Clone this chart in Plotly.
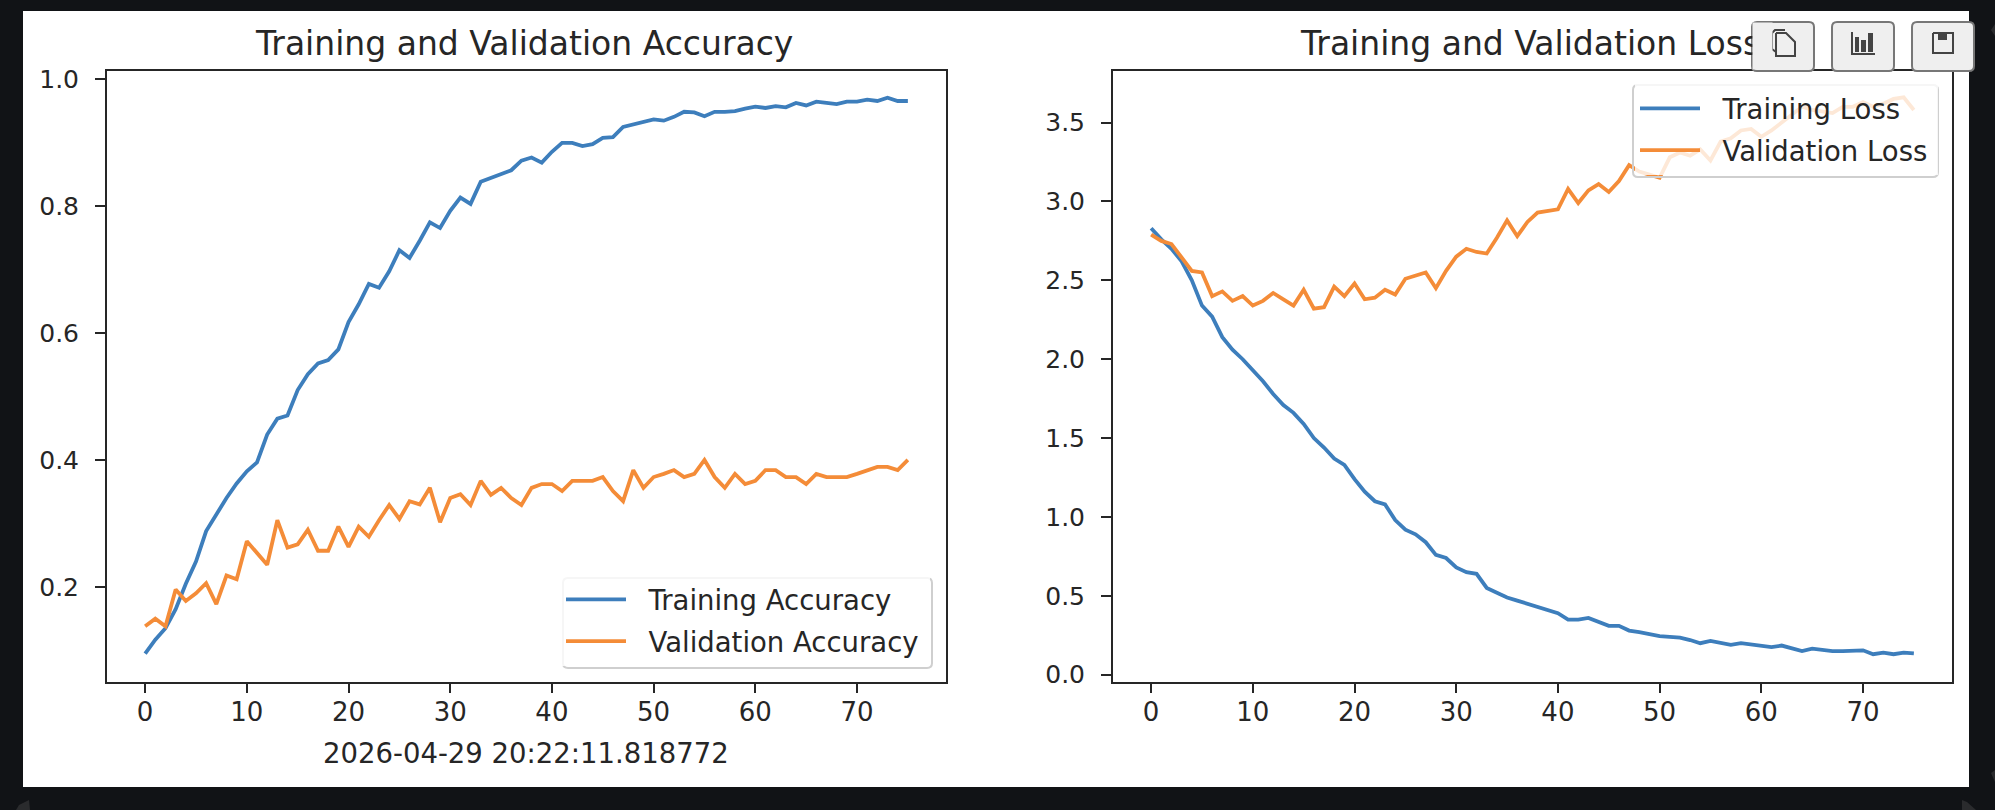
import plotly.graph_objects as go

# --- data ---
epochs = list(range(76))

train_acc = [0.095, 0.117, 0.135, 0.165, 0.205, 0.24, 0.288, 0.315, 0.34, 0.363,
             0.382, 0.396, 0.44, 0.465, 0.47, 0.51, 0.535, 0.552, 0.557, 0.574,
             0.617, 0.645, 0.677, 0.671, 0.697, 0.73, 0.718, 0.745, 0.774, 0.765,
             0.792, 0.813, 0.803, 0.838, 0.844, 0.85, 0.856, 0.871, 0.876, 0.868,
             0.885, 0.899, 0.899, 0.894, 0.897, 0.907, 0.908, 0.924, 0.928, 0.931,
             0.936, 0.934, 0.94, 0.948, 0.947, 0.941, 0.948, 0.948, 0.949, 0.953,
             0.956, 0.954, 0.957, 0.955, 0.962, 0.958, 0.964, 0.962, 0.96, 0.964,
             0.964, 0.967, 0.965, 0.97, 0.965, 0.965]

val_acc = [0.138, 0.15, 0.138, 0.196, 0.178, 0.19, 0.206, 0.173, 0.218, 0.212,
           0.272, 0.253, 0.235, 0.305, 0.262, 0.267, 0.29, 0.257, 0.257, 0.295,
           0.263, 0.295, 0.279, 0.305, 0.329, 0.307, 0.335, 0.33, 0.356, 0.302,
           0.34, 0.346, 0.329, 0.367, 0.345, 0.356, 0.34, 0.329, 0.356, 0.362,
           0.362, 0.351, 0.367, 0.367, 0.367, 0.373, 0.351, 0.335, 0.384, 0.356,
           0.373, 0.378, 0.384, 0.373, 0.378, 0.4, 0.373, 0.356, 0.378, 0.362,
           0.367, 0.384, 0.384, 0.373, 0.373, 0.362, 0.378, 0.373, 0.373, 0.373,
           0.378, 0.384, 0.389, 0.389, 0.384, 0.4]

train_loss = [2.83, 2.76, 2.7, 2.62, 2.5, 2.34, 2.27, 2.14, 2.06, 2.0,
              1.93, 1.86, 1.78, 1.71, 1.66, 1.59, 1.5, 1.44, 1.37, 1.33,
              1.24, 1.16, 1.1, 1.08, 0.98, 0.92, 0.89, 0.84, 0.76, 0.74,
              0.68, 0.65, 0.64, 0.55, 0.52, 0.49, 0.47, 0.45, 0.43, 0.41,
              0.39, 0.35, 0.35, 0.36, 0.335, 0.31, 0.31, 0.28, 0.27, 0.255,
              0.245, 0.24, 0.235, 0.22, 0.2, 0.215, 0.205, 0.19, 0.2, 0.19,
              0.18, 0.175, 0.185, 0.17, 0.15, 0.165, 0.155, 0.15, 0.15, 0.15,
              0.155, 0.13, 0.14, 0.13, 0.14, 0.135]

val_loss = [2.79, 2.75, 2.73, 2.64, 2.56, 2.55, 2.4, 2.43, 2.37, 2.4,
            2.34, 2.37, 2.42, 2.38, 2.34, 2.44, 2.32, 2.33, 2.46, 2.4,
            2.48, 2.38, 2.39, 2.44, 2.41, 2.51, 2.53, 2.55, 2.45, 2.56,
            2.65, 2.7, 2.68, 2.67, 2.77, 2.88, 2.78, 2.87, 2.93, 2.94,
            2.95, 3.08, 2.99, 3.07, 3.11, 3.06, 3.13, 3.23, 3.19, 3.17,
            3.15, 3.28, 3.31, 3.29, 3.33, 3.26, 3.38, 3.4, 3.45, 3.46,
            3.41, 3.45, 3.5, 3.55, 3.6, 3.58, 3.57, 3.56, 3.6, 3.6,
            3.63, 3.6, 3.62, 3.65, 3.66, 3.58]

x_ticks = [0, 10, 20, 30, 40, 50, 60, 70]
acc_ticks = [0.2, 0.4, 0.6, 0.8, 1.0]
loss_ticks = [0.0, 0.5, 1.0, 1.5, 2.0, 2.5, 3.0, 3.5]

timestamp = "2026-04-29 20:22:11.818772"

# --- page geometry, in pixels of the 1995x810 shot ---
W, H = 1995, 810
BLUE = "#3d7ebc"
ORANGE = "#f48c38"
DARK = "#111316"
INK = "#262626"
FONT = "DejaVu Sans"
LW = 3.8
SMALL = 27.5
BIG = 33


def px(x):
    return x / W


def py(y):
    return 1 - y / H


def path(points, close=False):
    """pixel polyline -> svg path in paper coordinates"""
    parts = []
    for i, (x, y) in enumerate(points):
        parts.append(f"{'M' if i == 0 else 'L'}{px(x):.5f},{py(y):.5f}")
    return " ".join(parts) + (" Z" if close else "")


def round_rect(x0, y0, x1, y1, r):
    return (f"M{px(x0 + r):.5f},{py(y0):.5f} L{px(x1 - r):.5f},{py(y0):.5f} "
            f"Q{px(x1):.5f},{py(y0):.5f} {px(x1):.5f},{py(y0 + r):.5f} "
            f"L{px(x1):.5f},{py(y1 - r):.5f} Q{px(x1):.5f},{py(y1):.5f} {px(x1 - r):.5f},{py(y1):.5f} "
            f"L{px(x0 + r):.5f},{py(y1):.5f} Q{px(x0):.5f},{py(y1):.5f} {px(x0):.5f},{py(y1 - r):.5f} "
            f"L{px(x0):.5f},{py(y0 + r):.5f} Q{px(x0):.5f},{py(y0):.5f} {px(x0 + r):.5f},{py(y0):.5f} Z")


fig = go.Figure()

fig.add_trace(go.Scatter(x=epochs, y=train_acc, mode="lines", name="\u00a0\u00a0Training Accuracy\u2009",
                         line=dict(color=BLUE, width=LW), xaxis="x", yaxis="y",
                         legend="legend", legendgroup="a"))
fig.add_trace(go.Scatter(x=epochs, y=val_acc, mode="lines", name="\u00a0\u00a0Validation Accuracy\u2009",
                         line=dict(color=ORANGE, width=LW), xaxis="x", yaxis="y",
                         legend="legend", legendgroup="b"))
fig.add_trace(go.Scatter(x=epochs, y=train_loss, mode="lines", name="\u00a0\u00a0Training Loss\u2009",
                         line=dict(color=BLUE, width=LW), xaxis="x2", yaxis="y2",
                         legend="legend2", legendgroup="c"))
fig.add_trace(go.Scatter(x=epochs, y=val_loss, mode="lines", name="\u00a0\u00a0Validation Loss\u2009",
                         line=dict(color=ORANGE, width=LW), xaxis="x2", yaxis="y2",
                         legend="legend2", legendgroup="d"))

axis_style = dict(showgrid=False, zeroline=False, showline=True, mirror=True, automargin=False,
                  linecolor=INK, linewidth=2, ticks="outside", tickwidth=2, tickcolor=INK)
x_style = dict(ticklen=9, ticklabelstandoff=-3, tickfont=dict(family=FONT, size=26, color=INK), **axis_style)
y_style = dict(ticklen=10, ticklabelstandoff=11, tickfont=dict(family=FONT, size=25, color=INK), **axis_style)

shapes = []
# white panel behind the two charts
shapes.append(dict(type="rect", xref="paper", yref="paper", layer="below",
                   x0=px(23), x1=px(1969), y0=py(787), y1=py(11),
                   fillcolor="white", line_width=0))

# faint corners of the notebook page around the panel
for pts in [[(16, 810), (19, 805), (29, 800), (30, 810)],
            [(1962, 800), (1967, 802), (1976, 810), (1962, 810)],
            [(1991, 773), (1995, 770), (1995, 782)],
            [(1991, 30), (1995, 24), (1995, 36)]]:
    shapes.append(dict(type="path", xref="paper", yref="paper", layer="below",
                       path=path(pts, close=True), fillcolor="#2a2b2d", line_width=0))

# rounded legend frames, the legends themselves only add the see-through white
for box in [(563, 578, 932, 668), (1633, 85, 1938, 177)]:
    shapes.append(dict(type="path", xref="paper", yref="paper",
                       path=round_rect(*box, 5), line=dict(color="#cfcfcf", width=2)))

# notebook toolbar buttons over the top right corner
for x0 in [1752, 1832, 1912]:
    shapes.append(dict(type="path", xref="paper", yref="paper",
                       path=round_rect(x0, 22, x0 + 62, 71, 5),
                       fillcolor="#efefef", line=dict(color="#777777", width=2)))
icon = dict(color="#444444", width=2)
shapes.append(dict(type="path", xref="paper", yref="paper", line=icon,
                   path=path([(1776, 52), (1772, 49), (1772, 33), (1775, 30), (1785, 30)])))
shapes.append(dict(type="path", xref="paper", yref="paper", line=icon,
                   path=path([(1776, 33), (1786, 33), (1795, 42), (1795, 56), (1776, 56), (1776, 33)])))
shapes.append(dict(type="path", xref="paper", yref="paper", line=icon,
                   path=path([(1852, 32), (1852, 54), (1875, 54)])))
for bx0, bx1, by0 in [(1855, 1859, 37), (1861, 1866, 40), (1868, 1873, 33)]:
    shapes.append(dict(type="rect", xref="paper", yref="paper", line_width=0,
                       x0=px(bx0), x1=px(bx1), y0=py(52), y1=py(by0), fillcolor="#444444"))
shapes.append(dict(type="path", xref="paper", yref="paper", line=icon,
                   path=path([(1933, 33), (1953, 33), (1953, 53), (1933, 53), (1933, 33)])))
shapes.append(dict(type="rect", xref="paper", yref="paper", line_width=0,
                   x0=px(1938), x1=px(1947), y0=py(40), y1=py(33), fillcolor="#444444"))

annotations = [
    dict(text="Training and Validation Accuracy", xref="paper", yref="paper",
         x=px(524), y=py(43), xanchor="center", yanchor="middle", showarrow=False,
         font=dict(family=FONT, size=BIG, color=INK)),
    dict(text="Training and Validation Loss", xref="paper", yref="paper",
         x=px(1530), y=py(43), xanchor="center", yanchor="middle", showarrow=False,
         font=dict(family=FONT, size=BIG, color=INK)),
    dict(text=timestamp, xref="paper", yref="paper",
         x=px(526), y=py(753), xanchor="center", yanchor="middle", showarrow=False,
         font=dict(family=FONT, size=SMALL, color=INK)),
    # the first toolbar button sits on top of the end of the loss title
    dict(text=" ", xref="paper", yref="paper", x=px(1762), y=py(46), xanchor="center", yanchor="middle",
         width=17, height=44, bgcolor="#efefef", showarrow=False, font=dict(size=10)),
]

legend_style = dict(bgcolor="rgba(255,255,255,0.8)", borderwidth=0,
                    font=dict(family=FONT, size=SMALL, color=INK), itemwidth=60,
                    tracegroupgap=3, itemclick=False, itemdoubleclick=False)

fig.update_layout(
    width=W, height=H, margin=dict(l=0, r=0, t=0, b=0), autosize=False,
    paper_bgcolor=DARK, plot_bgcolor="rgba(0,0,0,0)", showlegend=True,
    xaxis=dict(domain=[px(107), px(946)], range=[-3.75, 78.75], tickvals=x_ticks, anchor="y", **x_style),
    yaxis=dict(domain=[py(682), py(71)], range=[0.0504, 1.0122], tickvals=acc_ticks, tickformat=".1f",
               anchor="x", **y_style),
    xaxis2=dict(domain=[px(1113), px(1952)], range=[-3.75, 78.75], tickvals=x_ticks, anchor="y2", **x_style),
    yaxis2=dict(domain=[py(682), py(71)], range=[-0.046, 3.827], tickvals=loss_ticks, tickformat=".1f",
                anchor="x2", **y_style),
    legend=dict(x=px(930), y=py(666), xanchor="right", yanchor="bottom", **legend_style),
    legend2=dict(x=px(1938), y=py(84), xanchor="right", yanchor="top", **legend_style),
    shapes=shapes,
    annotations=annotations,
)

fig.write_html("out.html", config={"displayModeBar": False},
               post_script="document.body.style.margin='0';document.body.style.background='#111316';")
